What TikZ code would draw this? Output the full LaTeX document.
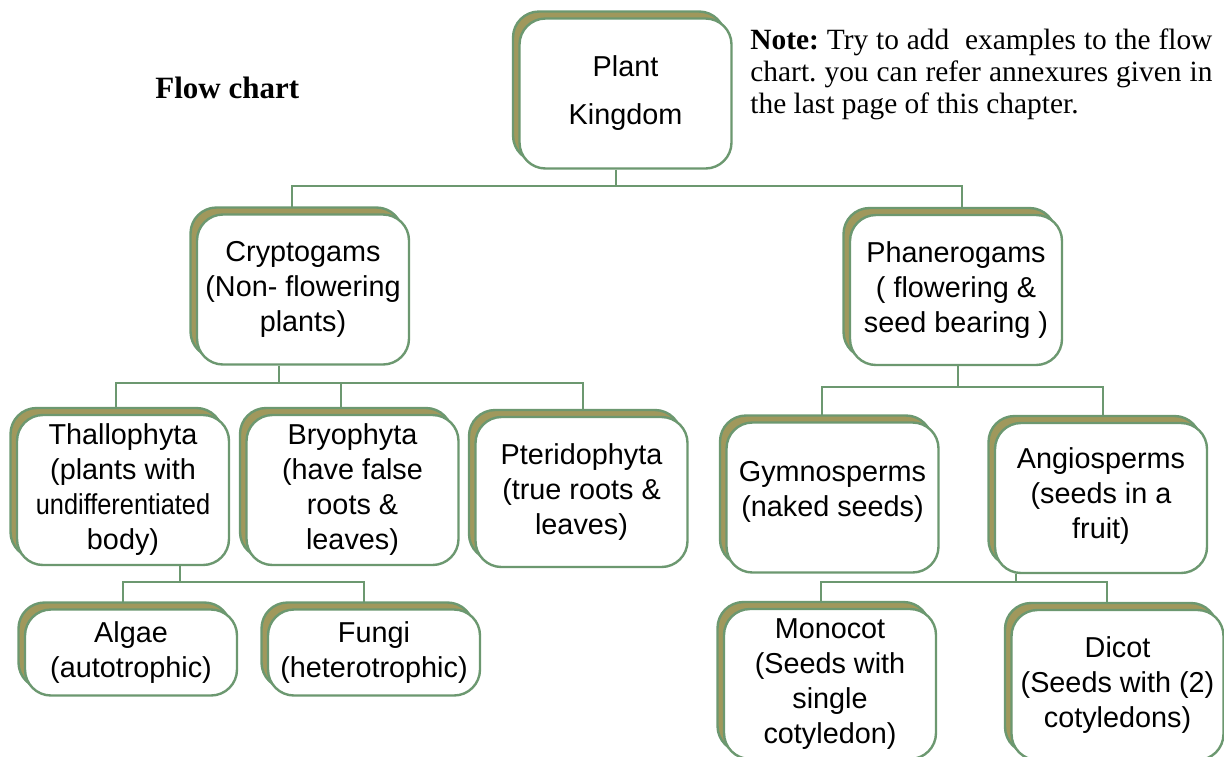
\documentclass[tikz,border=0pt]{standalone}
\usepackage{fontspec}
\setmainfont{Liberation Serif}
\setsansfont{Liberation Sans}
\usetikzlibrary{positioning,shadows,backgrounds}
\definecolor{boxgreen}{RGB}{108,152,112}
\definecolor{boxolive}{RGB}{160,152,92}
\frenchspacing

\begin{document}
\begin{tikzpicture}[
    x=0.5pt, y=-0.5pt,
    font=\sffamily\fontsize{14.4}{17.5}\selectfont,
    group/.style={draw=boxgreen, fill=white, line width=1.2pt, rounded corners=13pt, align=center, inner sep=0pt, minimum width=106pt, minimum height=75pt,
        copy shadow={shadow xshift=-3.25pt, shadow yshift=3.5pt, fill=boxolive, draw=boxgreen, line width=1.2pt}},
    leaf/.style={group, minimum height=43pt},
    link/.style={draw=boxgreen, line width=1pt},
    heading/.style={font=\rmfamily\bfseries\fontsize{15.5}{18}\selectfont, inner sep=0pt},
    note/.style={font=\rmfamily\fontsize{14.7}{16}\selectfont, text width=231pt, align=justify, inner sep=0pt},
]
\useasboundingbox (0,0) rectangle (1224,756);

\node[heading, anchor=base west] (title) at (155,98) {Flow chart};
\node[note, anchor=north west] (hint) at (750,28) {\textbf{Note:} Try to add\ \ examples to the flow\linebreak chart. you can refer annexures given in\linebreak the last page of this chapter.};

\node[group, font=\sffamily\fontsize{14.4}{24}\selectfont] (kingdom) at (625.5,93.5) {Plant\\Kingdom};
\node[group] (crypto) at (303,289.5) {Cryptogams\\(Non- flowering\\plants)};
\node[group] (phanero) at (956,290) {Phanerogams\\( flowering \&\\seed bearing )};
\node[group] (thallo) at (123,490) {Thallophyta\\(plants with\\\scalebox{0.88}[1]{undifferentiated}\\body)};
\node[group] (bryo) at (352.5,490) {Bryophyta\\(have false\\roots \&\\leaves)};
\node[group] (pterido) at (581.5,492) {Pteridophyta\\(true roots \&\\leaves)};
\node[group] (gymno) at (832.5,497.5) {Gymnosperms\\(naked seeds)\\[-9pt]\mbox{}};
\node[group] (angio) at (1101,498) {\mbox{}\\[-9pt]Angiosperms\\(seeds in a\\fruit)};
\node[leaf] (algae) at (131,652.5) {Algae\\(autotrophic)};
\node[leaf] (fungi) at (374,652.5) {Fungi\\(heterotrophic)};
\node[group] (mono) at (830,684) {Monocot\\(Seeds with\\single\\cotyledon)};
\node[group] (dicot) at (1117.5,685) {Dicot\\(Seeds with (2)\\cotyledons)};

% bus junctions of the tree
\coordinate (kbus) at (616,186);
\coordinate (cbus) at (279,383);
\coordinate (pbus) at (958,387);
\coordinate (tbus) at (180,582);
\coordinate (abus) at (1016,582);

\begin{scope}[on background layer]
\draw[link] (kingdom.south -| kbus) -- (kbus);
\draw[link] ([xshift=-5.5pt]crypto.north) |- (kbus) -| ([xshift=3pt]phanero.north);
\draw[link] (crypto.south -| cbus) -- (cbus);
\draw[link] ([xshift=-3.5pt]thallo.north) |- (cbus) -| ([xshift=0.75pt]pterido.north);
\draw[link] ([xshift=-5.75pt]bryo.north) |- (cbus);
\draw[link] (phanero.south -| pbus) -- (pbus);
\draw[link] ([xshift=-5.25pt]gymno.north) |- (pbus) -| ([xshift=1pt]angio.north);
\draw[link] (thallo.south -| tbus) -- (tbus);
\draw[link] ([xshift=-4pt]algae.north) |- (tbus) -| ([xshift=-5pt]fungi.north);
\draw[link] (angio.south -| abus) -- (abus);
\draw[link] ([xshift=-4.5pt]mono.north) |- (abus) -| ([xshift=-5.25pt]dicot.north);
\end{scope}
\end{tikzpicture}
\end{document}
